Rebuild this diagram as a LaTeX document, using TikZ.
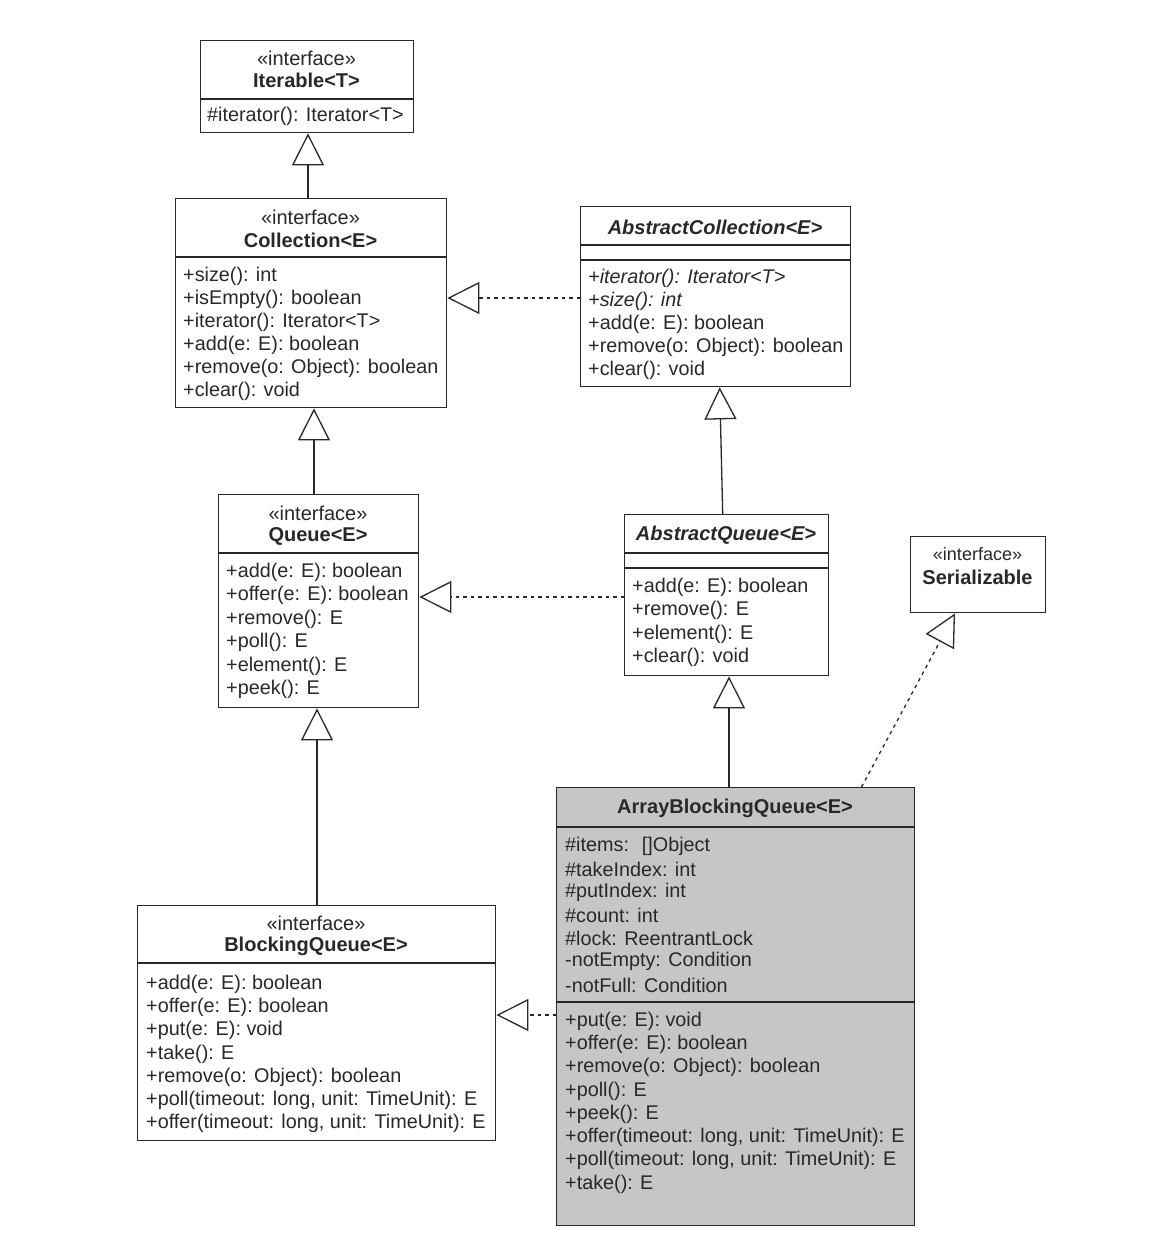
\documentclass[tikz,border=0pt]{standalone}
\usepackage{fontspec}
\setmainfont{Liberation Sans}
\usetikzlibrary{arrows.meta,calc}
\definecolor{ink}{RGB}{40,40,40}
\definecolor{abqfill}{RGB}{198,198,198}
\tikzset{
  box/.style={draw=ink, line width=1.4pt, rectangle, anchor=north west, inner sep=0pt},
  mem/.style={anchor=west, inner sep=0pt, text=ink, font=\fontsize{19.8}{23}\selectfont},
  memi/.style={mem, font=\fontsize{19.8}{23}\selectfont\itshape},
  ster/.style={inner sep=0pt, text=ink, font=\fontsize{20}{23}\selectfont},
  ttl/.style={inner sep=0pt, text=ink, font=\fontsize{20}{23}\selectfont\bfseries},
  ttli/.style={ttl, font=\fontsize{20}{23}\selectfont\bfseries\itshape},
  divline/.style={draw=ink, line width=1.3pt},
  gen/.style={draw=ink, line width=1.3pt, -{Triangle[open, length=32pt, width=32pt, fill=white]}},
  real/.style={gen, dash pattern=on 3.5pt off 4pt},
}
\begin{document}
\begin{tikzpicture}[x=1pt,y=-1pt]
\useasboundingbox (0,0) rectangle (1160,1246);
\fill[white] (0,0) rectangle (1160,1246);

% Iterable
\node[box, minimum width=213, minimum height=92] (iter) at (200,40) {};
\draw[divline] (200,99) -- (413,99);
\node[ster] (iters) at (306.5,58) {«interface»};
\node[ttl] (itert) at (306.5,80) {Iterable<T>};
\node[mem] (iterm1) at (207,116) {\#iterator(): Iterator<T>};

% Collection
\node[box, minimum width=271, minimum height=209] (coll) at (175,198) {};
\draw[divline] (175,257) -- (446,257);
\node[ster] (colls) at (310.5,217) {«interface»};
\node[ttl] (collt) at (310.5,240) {Collection<E>};
\node[mem] (collm1) at (183,276) {+size(): int};
\node[mem] (collm2) at (183,299) {+isEmpty(): boolean};
\node[mem] (collm3) at (183,322) {+iterator(): Iterator<T>};
\node[mem] (collm4) at (183,345) {+add(e: E): boolean};
\node[mem] (collm5) at (183,368) {+remove(o: Object): boolean};
\node[mem] (collm6) at (183,391) {+clear(): void};

% AbstractCollection
\node[box, minimum width=270, minimum height=180] (acoll) at (580,206) {};
\draw[divline] (580,245) -- (850,245);
\draw[divline] (580,260) -- (850,260);
\node[ttli] (acollt) at (715,227) {AbstractCollection<E>};
\node[memi] (acollm1) at (588,278) {+iterator(): Iterator<T>};
\node[memi] (acollm2) at (588,301) {+size(): int};
\node[mem] (acollm3) at (588,324) {+add(e: E): boolean};
\node[mem] (acollm4) at (588,347) {+remove(o: Object): boolean};
\node[mem] (acollm5) at (588,370) {+clear(): void};

% Queue
\node[box, minimum width=200, minimum height=213] (queue) at (218,494) {};
\draw[divline] (218,553) -- (418,553);
\node[ster] (queues) at (318,513) {«interface»};
\node[ttl] (queuet) at (318,536) {Queue<E>};
\node[mem] (queuem1) at (226,572) {+add(e: E): boolean};
\node[mem] (queuem2) at (226,595) {+offer(e: E): boolean};
\node[mem] (queuem3) at (226,619) {+remove(): E};
\node[mem] (queuem4) at (226,642) {+poll(): E};
\node[mem] (queuem5) at (226,666) {+element(): E};
\node[mem] (queuem6) at (226,689) {+peek(): E};

% AbstractQueue
\node[box, minimum width=204, minimum height=161] (aq) at (624,514) {};
\draw[divline] (624,553) -- (828,553);
\node[ttli] (aqt) at (726,535) {AbstractQueue<E>};
\draw[divline] (624,568) -- (828,568);
\node[mem] (aqm1) at (632,587) {+add(e: E): boolean};
\node[mem] (aqm2) at (632,610) {+remove(): E};
\node[mem] (aqm3) at (632,634) {+element(): E};
\node[mem] (aqm4) at (632,657) {+clear(): void};

% Serializable
\node[box, minimum width=135, minimum height=76] (ser) at (910,536) {};
\node[ster, font=\fontsize{18}{21}\selectfont] (sers) at (977.5,554) {«interface»};
\node[ttl] (sert) at (977.5,577) {Serializable};

% BlockingQueue
\node[box, minimum width=358, minimum height=235] (bq) at (137,905) {};
\draw[divline] (137,963) -- (495,963);
\node[ster] (bqs) at (316,923) {«interface»};
\node[ttl] (bqt) at (316,946) {BlockingQueue<E>};
\node[mem] (bqm1) at (146,984) {+add(e: E): boolean};
\node[mem] (bqm2) at (146,1007) {+offer(e: E): boolean};
\node[mem] (bqm3) at (146,1030) {+put(e: E): void};
\node[mem] (bqm4) at (146,1054) {+take(): E};
\node[mem] (bqm5) at (146,1077) {+remove(o: Object): boolean};
\node[mem] (bqm6) at (146,1100) {+poll(timeout: long, unit: TimeUnit): E};
\node[mem] (bqm7) at (146,1123) {+offer(timeout: long, unit: TimeUnit): E};

% ArrayBlockingQueue
\node[box, fill=abqfill, minimum width=358, minimum height=438] (abq) at (556,787) {};
\draw[divline] (556,827) -- (914,827);
\draw[divline] (556,1002) -- (914,1002);
\node[ttl] (abqt) at (735,808) {ArrayBlockingQueue<E>};
\node[mem] (abqa1) at (565,846) {\#items:~ []Object};
\node[mem] (abqa2) at (565,869) {\#takeIndex: int};
\node[mem] (abqa3) at (565,892) {\#putIndex: int};
\node[mem] (abqa4) at (565,915) {\#count: int};
\node[mem] (abqa5) at (565,938) {\#lock: ReentrantLock};
\node[mem] (abqa6) at (565,961) {-notEmpty: Condition};
\node[mem] (abqa7) at (565,985) {-notFull: Condition};
\node[mem] (abqm1) at (565,1021) {+put(e: E): void};
\node[mem] (abqm2) at (565,1044) {+offer(e: E): boolean};
\node[mem] (abqm3) at (565,1067) {+remove(o: Object): boolean};
\node[mem] (abqm4) at (565,1091) {+poll(): E};
\node[mem] (abqm5) at (565,1114) {+peek(): E};
\node[mem] (abqm6) at (565,1137) {+offer(timeout: long, unit: TimeUnit): E};
\node[mem] (abqm7) at (565,1160) {+poll(timeout: long, unit: TimeUnit): E};
\node[mem] (abqm8) at (565,1184) {+take(): E};

% connectors
\draw[gen] (coll.north -| 308,0) -- (iter.south -| 308,0);
\draw[gen] (queue.north -| 314,0) -- (coll.south -| 314,0);
\draw[real] (acoll.west |- 0,298) -- (coll.east |- 0,298);
\draw[gen] ($(aq.north)+(-4,0)$) -- ($(acoll.south)+(4,0)$);
\draw[real] (aq.west |- 0,597) -- (queue.east |- 0,597);
\draw[gen] (abq.north -| 729,0) -- (aq.south -| 729,0);
\draw[gen] (bq.north -| 317,0) -- (queue.south -| 317,0);
\draw[real] ($(abq.north west)!0.85!(abq.north east)$) -- ($(ser.south west)!0.33!(ser.south east)$);
\draw[real] (abq.west |- 0,1015) -- (bq.east |- 0,1015);
\end{tikzpicture}
\end{document}
